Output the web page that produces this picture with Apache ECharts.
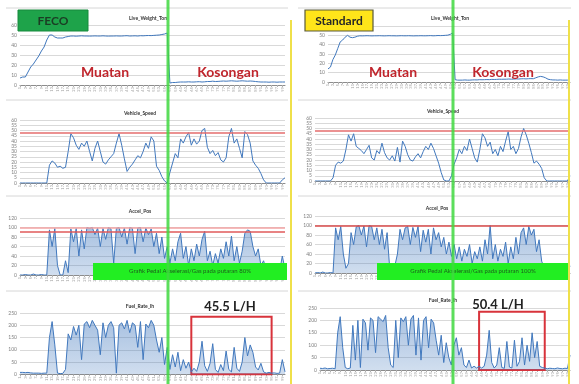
<!DOCTYPE html>
<html>
<head>
<meta charset="utf-8">
<script src="https://cdn.jsdelivr.net/npm/echarts@6/dist/echarts.min.js"></script>
<style>
  html, body { margin: 0; padding: 0; background: #ffffff; }
  #chart { width: 579px; height: 384px; }
</style>
</head>
<body>
<div id="chart"></div>
<script>
// Sample index along the logged trip (one category per sample)
const samples = Array.from({ length: 100 }, (_, i) => String(i + 1));

// ---- FECO unit ----
const weightFeco = [7,8,8,13,18,21,25,29,34,38,45,50,50,48,47,47,47,48,
  48.5,49,49,48.8,49,49.2,49,49,48.9,49,49.1,49,49,49.2,49,48.9,49,49,49.1,49,49,49.2,49.3,49,49.1,49.2,49,49.3,49.2,49.4,49.5,49.4,49.6,49.8,50,
  50.5,51,52,
  2,2.5,2.5,2.8,3,3,3,3.2,3,3,3.2,3.3,3,3.2,3.5,3.5,3.8,3.5,3.6,3.8,4,3.8,4,4.2,4,3.8,4,4.2,4,3.8,4,3.8,3.5,3.2,3,3,3,2.8,3,3,2.8,3,3,3];

const speedFeco = [0,0,0,0,0,0,0,0,0,0,0,
  17,21,19,15,16,14,15,30,47,43,36,32,38,35,40,30,21,33,40,30,20,18,22,25,28,38,47,36,23,11,15,18,22,26,24,30,38,33,44,40,16,12,6,2,
  0,10,19,28,24,42,38,44,48,36,42,37,40,50,52,34,28,31,26,29,22,20,24,44,52,38,42,33,24,49,46,38,21,17,14,9,3,
  0,0,0,0,0,0,3,5];

const accelFeco = [0,0,1,0,0,2,0,0,1,0,0,
  95,60,98,20,0,0,30,5,97,70,
  98,40,95,55,100,98,100,85,99,60,
  98,75,100,97,25,98,100,80,99,65,
  100,98,45,99,100,70,99,85,97,60,
  88,45,80,35,60,25,55,30,70,88,
  35,60,20,55,30,65,40,75,92,30,
  50,20,45,25,55,35,70,40,82,30,
  60,25,50,88,95,92,60,40,55,20,
  30,10,15,5,10,3,8,40,12];

const fuelFeco = [8,8,7,8,6,5,5,5,4,5,5,
  150,215,120,5,3,4,20,165,140,195,160,200,60,205,215,190,220,200,180,80,210,150,200,215,190,5,200,210,185,220,170,210,200,110,215,60,205,190,220,200,140,90,150,40,110,20,80,30,90,15,60,25,50,
  10,25,12,50.5,135,35,12,45,125,20,8,40,15,95,20,10,110,25,12,50,150,75,120,90,30,18,45,10,5,8,5,
  6,4,5,60,10];

// ---- Standard unit ----
const weightStd = [14,16,24,29,36,43,45,48,50,48,47.5,48,49,
  49.5,49.4,49.5,49.6,49.5,49.4,49.5,49.5,49.6,49.5,49.4,49.5,49.6,49.5,49.5,49.4,49.5,49.6,49.5,49.5,49.6,49.5,49.4,49.5,49.5,49.6,49.5,49.5,49.6,49.7,49.5,49.6,49.8,49.7,49.8,50,50.2,
  51,52.5,
  2.5,2,2,2,2.2,2,2,2.2,2.3,2.2,2.5,2.4,2.5,2.6,2.5,2.8,2.7,2.8,3,2.9,3,3,3.2,3,3.1,3.3,3.2,3.4,3.5,3.3,3.5,3.6,3.5,4.5,5.5,6,5.5,4.5,3,2.5,2.2,2.2,2,2.2,2,2,2,2];

const speedStd = [0,0,0,0,0,0,0,
  3,15,18,17,19,30,44,38,45,33,31,29,26,30,34,22,20,29,26,36,27,22,20,24,19,32,18,38,33,25,20,19,23,26,22,28,33,30,36,31,24,17,8,1,
  0,0,
  5,16,22,30,26,33,29,40,31,22,18,30,45,41,33,37,26,30,24,33,28,38,47,30,33,26,31,42,50,44,36,27,17,19,16,12,3,
  0,0,0,0,0,0,0,0,0,5];

const accelStd = [0,1,0,2,0,0,1,0,
  95,70,98,40,10,20,85,60,97,100,
  80,99,55,100,98,70,95,60,92,50,
  85,10,5,15,40,92,70,95,98,60,
  96,75,98,45,90,65,92,40,95,70,
  85,55,75,40,65,35,60,30,55,25,
  50,35,60,20,45,30,55,25,70,40,
  100,30,60,25,50,35,65,20,55,30,
  75,40,85,95,60,98,80,92,45,70,
  25,10,
  5,8,3,6,2,4,1,3,2,15];

const fuelStd = [7,6,8,5,6,7,5,
  150,215,90,10,5,8,180,40,200,10,205,190,80,210,200,70,215,205,195,220,90,20,10,200,50,210,195,215,100,205,220,60,210,40,200,215,90,205,190,120,60,140,30,110,50,20,100,130,60,90,20,10,40,8,15,
  8,
  15,8,15,60,160,30,8,20,90,10,6.8,115,12,8,120,15,35,130,20,100,35,150,50,115,15,10,8,
  5,7,6,5,8,6,5,7,6,60];

// Empty-run windows used for the average fuel rate (sample index, inclusive)
const emptyWindowFeco = [64, 94];
const emptyWindowStd = [63, 89];

const speedLimit = 48;

function windowMean(arr, win) {
  let s = 0;
  for (let i = win[0]; i <= win[1]; i++) s += arr[i];
  return s / (win[1] - win[0] + 1);
}

const BLUE = '#4178bd';
const FONT = 'Lato, "Liberation Sans", sans-serif';

const grids = [
  { left: 20,  top: 25,  width: 265, height: 60 },
  { left: 20,  top: 120, width: 265, height: 63 },
  { left: 20,  top: 218, width: 265, height: 57 },
  { left: 20,  top: 313, width: 265, height: 63 },
  { left: 328, top: 26,  width: 242, height: 56 },
  { left: 315, top: 118, width: 255, height: 63 },
  { left: 315, top: 216, width: 255, height: 57 },
  { left: 320, top: 308, width: 250, height: 62 }
];
const yRanges = [
  [0, 60, 10], [0, 60, 5], [0, 120, 20], [0, 250, 50],
  [0, 60, 10], [0, 60, 5], [0, 120, 20], [0, 250, 50]
];

const xAxes = grids.map((g, i) => ({
  type: 'category', gridIndex: i, data: samples, boundaryGap: false,
  axisLine: { lineStyle: { color: '#8c8c8c', width: 1 } },
  axisTick: { show: true, length: 2, interval: 1, lineStyle: { color: '#b0b0b0' } },
  axisLabel: { fontSize: 4, rotate: 90, color: '#a0a0a0', interval: 1, margin: 2, fontFamily: FONT },
  splitLine: { show: false }
}));
const yAxes = yRanges.map((r, i) => ({
  type: 'value', gridIndex: i, min: r[0], max: r[1], interval: r[2],
  axisLine: { show: false }, axisTick: { show: false },
  axisLabel: { fontSize: 5, color: '#808080', margin: 3, fontFamily: FONT },
  splitLine: { lineStyle: { color: '#d9d9d9', width: 1 } }
}));

function lineSeries(idx, data, extra) {
  return Object.assign({
    type: 'line', xAxisIndex: idx, yAxisIndex: idx, data: data,
    showSymbol: false, smooth: false, animation: false,
    lineStyle: { color: BLUE, width: 1 },
    itemStyle: { color: BLUE }
  }, extra || {});
}
function redLine(values, colors) {
  return {
    silent: true, symbol: 'none', label: { show: false },
    data: values.map((v, k) => ({ yAxis: v, lineStyle: { color: colors[k], width: 1.5, type: 'solid' } }))
  };
}
function emptyBox(win) {
  return {
    silent: true,
    itemStyle: { color: 'rgba(0,0,0,0)', borderColor: '#d8333b', borderWidth: 2 },
    data: [[{ xAxis: samples[win[0]], yAxis: 0 }, { xAxis: samples[win[1]], yAxis: 235 }]]
  };
}
const denseArea = {
  color: new echarts.graphic.LinearGradient(0, 0, 0, 1, [
    { offset: 0, color: 'rgba(65,120,189,0.65)' },
    { offset: 1, color: 'rgba(65,120,189,0.35)' }
  ])
};

const series = [
  lineSeries(0, weightFeco),
  lineSeries(1, speedFeco, { markLine: redLine([speedLimit], ['#e46c6c']) }),
  lineSeries(2, accelFeco, { areaStyle: denseArea, markLine: redLine([100, 92], ['#f3a3a3', '#e05a5a']) }),
  lineSeries(3, fuelFeco, { areaStyle: denseArea, markArea: emptyBox(emptyWindowFeco) }),
  lineSeries(4, weightStd),
  lineSeries(5, speedStd, { markLine: redLine([speedLimit], ['#e46c6c']) }),
  lineSeries(6, accelStd, { areaStyle: denseArea, markLine: redLine([100], ['#d84a4a']) }),
  lineSeries(7, fuelStd, { areaStyle: denseArea, markArea: emptyBox(emptyWindowStd) })
];

function txt(x, y, text, size, color, weight, z) {
  return {
    type: 'text', x: x, y: y, z: z || 50,
    style: { text: text, fontSize: size, fill: color, fontWeight: weight || 'normal',
             fontFamily: FONT, align: 'center', verticalAlign: 'middle' }
  };
}
function vline(x, y1, y2, color, w, op) {
  return { type: 'line', z: 60, shape: { x1: x, y1: y1, x2: x, y2: y2 },
           style: { stroke: color, lineWidth: w, opacity: op == null ? 1 : op } };
}
function hline(y, x1, x2) {
  return { type: 'line', z: 1, shape: { x1: x1, y1: y, x2: x2, y2: y },
           style: { stroke: '#d6d6d6', lineWidth: 1 } };
}

const avgFeco = windowMean(fuelFeco, emptyWindowFeco).toFixed(1) + ' L/H';
const avgStd = windowMean(fuelStd, emptyWindowStd).toFixed(1) + ' L/H';

const graphics = [
  // chart-area separators
  hline(8, 6, 288), hline(100, 6, 288), hline(196, 6, 288), hline(291, 6, 288),
  hline(8, 298, 571), hline(100, 298, 571), hline(196, 298, 571), hline(291, 298, 571),
  // chart titles
  txt(148, 18, 'Live_Weight_Ton', 5, '#333', 'bold'),
  txt(140, 113, 'Vehicle_Speed', 5, '#333', 'bold'),
  txt(140, 211, 'Accel_Pos', 5, '#333', 'bold'),
  txt(140, 306, 'Fuel_Rate_lh', 5, '#333', 'bold'),
  txt(450, 18, 'Live_Weight_Ton', 5, '#333', 'bold'),
  txt(443, 111, 'Vehicle_Speed', 5, '#333', 'bold'),
  txt(437, 208, 'Accel_Pos', 5, '#333', 'bold'),
  txt(443, 300, 'Fuel_Rate_lh', 5, '#333', 'bold'),
  // unit badges
  { type: 'rect', z: 55, shape: { x: 18, y: 10, width: 70, height: 21 },
    style: { fill: '#1ea34a', stroke: '#178a3c', lineWidth: 1 } },
  txt(53, 21, 'FECO', 12, '#1b3d24', 'bold', 56),
  { type: 'rect', z: 55, shape: { x: 305, y: 10, width: 68, height: 21 },
    style: { fill: '#ffe51a', stroke: '#5a5a3a', lineWidth: 1.2 } },
  txt(339, 21, 'Standard', 12, '#262626', 'bold', 56),
  // loaded / empty phases
  txt(105, 72, 'Muatan', 14, '#c0262d', 'bold'),
  txt(228, 72, 'Kosongan', 14, '#c0262d', 'bold'),
  txt(393, 72, 'Muatan', 14, '#c0262d', 'bold'),
  txt(503, 72, 'Kosongan', 14, '#c0262d', 'bold'),
  // pedal notes
  { type: 'rect', z: 55, shape: { x: 93, y: 263, width: 194, height: 17 },
    style: { fill: '#22ee22' } },
  txt(190, 271.5, 'Grafik Pedal Akselerasi/Gas pada putaran 80%', 6, '#1d5e1d', 'normal', 56),
  { type: 'rect', z: 55, shape: { x: 377, y: 263, width: 193, height: 17 },
    style: { fill: '#22ee22' } },
  txt(473, 271.5, 'Grafik Pedal Akselerasi/Gas pada putaran 100%', 6, '#1d5e1d', 'normal', 56),
  // average fuel rate while empty
  txt(230, 307, avgFeco, 13, '#222', 'bold'),
  txt(498, 305, avgStd, 13, '#222', 'bold'),
  // phase divider and panel edges
  vline(168, 0, 384, '#3fd83f', 3, 0.85),
  vline(453, 0, 384, '#3fd83f', 3, 0.85),
  vline(291, 20, 384, '#efe04a', 2),
  vline(569, 20, 384, '#efe04a', 2)
];

const chart = echarts.init(document.getElementById('chart'), null, { renderer: 'canvas' });
chart.setOption({
  animation: false,
  backgroundColor: '#ffffff',
  grid: grids,
  xAxis: xAxes,
  yAxis: yAxes,
  series: series,
  graphic: graphics
});
</script>
</body>
</html>
